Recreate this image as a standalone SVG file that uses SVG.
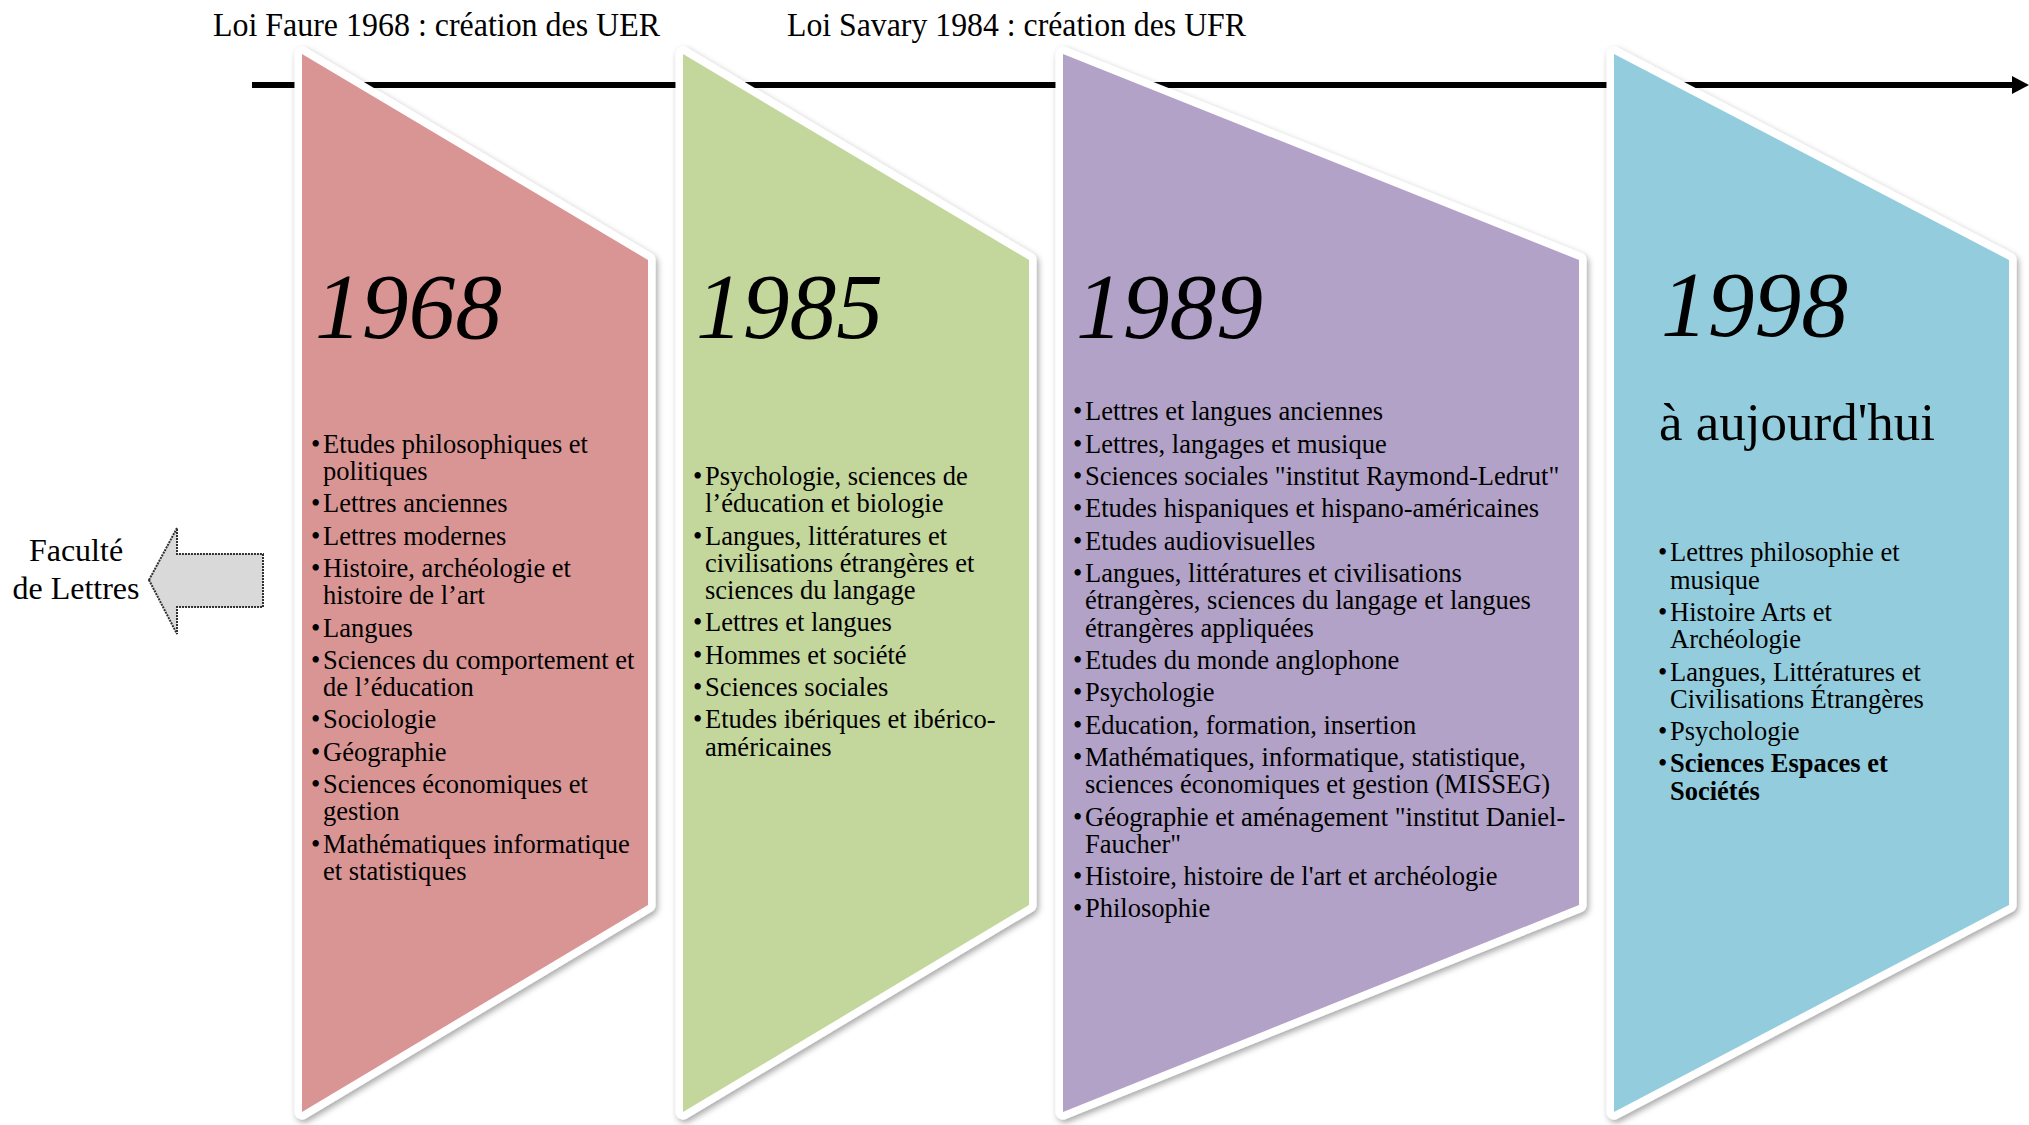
<svg xmlns="http://www.w3.org/2000/svg" width="2029" height="1125" viewBox="0 0 2029 1125">
<defs>
<filter id="sh" x="-10%" y="-10%" width="125%" height="125%">
<feDropShadow dx="2" dy="3" stdDeviation="3" flood-color="#000" flood-opacity="0.35"/>
</filter>
<marker id="ah" markerUnits="userSpaceOnUse" markerWidth="17" markerHeight="18" viewBox="0 0 17 18" refX="0" refY="9" orient="auto">
<path d="M0,0 L17,9 L0,18 z" fill="#000"/>
</marker>
</defs>
<style>
text{font-family:"Liberation Serif","Times New Roman",serif;fill:#000}
.shape{stroke:#fff;stroke-width:15;stroke-linejoin:round;paint-order:stroke;filter:url(#sh)}
.year{font-size:93.5px;font-style:italic}
.li{font-size:26.5px}
.title{font-size:34px}
.b{font-weight:bold}
</style>
<rect width="2029" height="1125" fill="#fff"/>
<g id="connectors">
<line x1="252" y1="85" x2="2012" y2="85" stroke="#000" stroke-width="6" marker-end="url(#ah)"/>
</g>
<g id="titles">
<text class="title" x="213" y="36" textLength="447" lengthAdjust="spacingAndGlyphs">Loi Faure 1968 : création des UER</text>
<text class="title" x="787" y="36" textLength="459" lengthAdjust="spacingAndGlyphs">Loi Savary 1984 : création des UFR</text>
</g>
<g id="faculte">
<polygon points="149,580 177,528 177,554 263,554 263,607 177,607 177,634" fill="#d9d9d9" stroke="#303030" stroke-width="2" stroke-dasharray="2 1"/>
<text x="76" y="561" font-size="32" text-anchor="middle">Faculté</text>
<text x="76" y="599" font-size="32" text-anchor="middle">de Lettres</text>
</g>
<g id="n1968">
<path class="shape" d="M302,54 L648,260 L648,905 L302,1112 Z" fill="#D99594"/>
<text class="year" x="315" y="338">1968</text>
<g class="li">
<text x="311" y="453">•</text><text x="323" y="453">Etudes philosophiques et</text>
<text x="323" y="480">politiques</text>
<text x="311" y="512">•</text><text x="323" y="512">Lettres anciennes</text>
<text x="311" y="545">•</text><text x="323" y="545">Lettres modernes</text>
<text x="311" y="577">•</text><text x="323" y="577">Histoire, archéologie et</text>
<text x="323" y="604">histoire de l’art</text>
<text x="311" y="637">•</text><text x="323" y="637">Langues</text>
<text x="311" y="669">•</text><text x="323" y="669">Sciences du comportement et</text>
<text x="323" y="696">de l’éducation</text>
<text x="311" y="728">•</text><text x="323" y="728">Sociologie</text>
<text x="311" y="761">•</text><text x="323" y="761">Géographie</text>
<text x="311" y="793">•</text><text x="323" y="793">Sciences économiques et</text>
<text x="323" y="820">gestion</text>
<text x="311" y="853">•</text><text x="323" y="853">Mathématiques informatique</text>
<text x="323" y="880">et statistiques</text>
</g>
</g>
<g id="n1985">
<path class="shape" d="M683,54 L1029,260 L1029,905 L683,1112 Z" fill="#C3D69B"/>
<text class="year" x="696" y="338">1985</text>
<g class="li">
<text x="693" y="485">•</text><text x="705" y="485">Psychologie, sciences de</text>
<text x="705" y="512">l’éducation et biologie</text>
<text x="693" y="545">•</text><text x="705" y="545">Langues, littératures et</text>
<text x="705" y="572">civilisations étrangères et</text>
<text x="705" y="599">sciences du langage</text>
<text x="693" y="631">•</text><text x="705" y="631">Lettres et langues</text>
<text x="693" y="664">•</text><text x="705" y="664">Hommes et société</text>
<text x="693" y="696">•</text><text x="705" y="696">Sciences sociales</text>
<text x="693" y="728">•</text><text x="705" y="728">Etudes ibériques et ibérico-</text>
<text x="705" y="756">américaines</text>
</g>
</g>
<g id="n1989">
<path class="shape" d="M1063,54 L1579,260 L1579,905 L1063,1112 Z" fill="#B2A2C7"/>
<text class="year" x="1076" y="338">1989</text>
<g class="li">
<text x="1073" y="420">•</text><text x="1085" y="420">Lettres et langues anciennes</text>
<text x="1073" y="453">•</text><text x="1085" y="453">Lettres, langages et musique</text>
<text x="1073" y="485">•</text><text x="1085" y="485">Sciences sociales "institut Raymond-Ledrut"</text>
<text x="1073" y="517">•</text><text x="1085" y="517">Etudes hispaniques et hispano-américaines</text>
<text x="1073" y="550">•</text><text x="1085" y="550">Etudes audiovisuelles</text>
<text x="1073" y="582">•</text><text x="1085" y="582">Langues, littératures et civilisations</text>
<text x="1085" y="609">étrangères, sciences du langage et langues</text>
<text x="1085" y="637">étrangères appliquées</text>
<text x="1073" y="669">•</text><text x="1085" y="669">Etudes du monde anglophone</text>
<text x="1073" y="701">•</text><text x="1085" y="701">Psychologie</text>
<text x="1073" y="734">•</text><text x="1085" y="734">Education, formation, insertion</text>
<text x="1073" y="766">•</text><text x="1085" y="766">Mathématiques, informatique, statistique,</text>
<text x="1085" y="793">sciences économiques et gestion (MISSEG)</text>
<text x="1073" y="826">•</text><text x="1085" y="826">Géographie et aménagement "institut Daniel-</text>
<text x="1085" y="853">Faucher"</text>
<text x="1073" y="885">•</text><text x="1085" y="885">Histoire, histoire de l'art et archéologie</text>
<text x="1073" y="917">•</text><text x="1085" y="917">Philosophie</text>
</g>
</g>
<g id="n1998">
<path class="shape" d="M1614,54 L2009,260 L2009,905 L1614,1112 Z" fill="#93CDDD"/>
<text class="year" x="1661" y="336">1998</text>
<text x="1659" y="440" font-size="53">à aujourd'hui</text>
<g class="li">
<text x="1658" y="561">•</text><text x="1670" y="561">Lettres philosophie et</text>
<text x="1670" y="589">musique</text>
<text x="1658" y="621">•</text><text x="1670" y="621">Histoire Arts et</text>
<text x="1670" y="648">Archéologie</text>
<text x="1658" y="681">•</text><text x="1670" y="681">Langues, Littératures et</text>
<text x="1670" y="708">Civilisations Étrangères</text>
<text x="1658" y="740">•</text><text x="1670" y="740">Psychologie</text>
<text x="1658" y="772">•</text><text class="b" x="1670" y="772">Sciences Espaces et</text>
<text class="b" x="1670" y="800">Sociétés</text>
</g>
</g>
</svg>
